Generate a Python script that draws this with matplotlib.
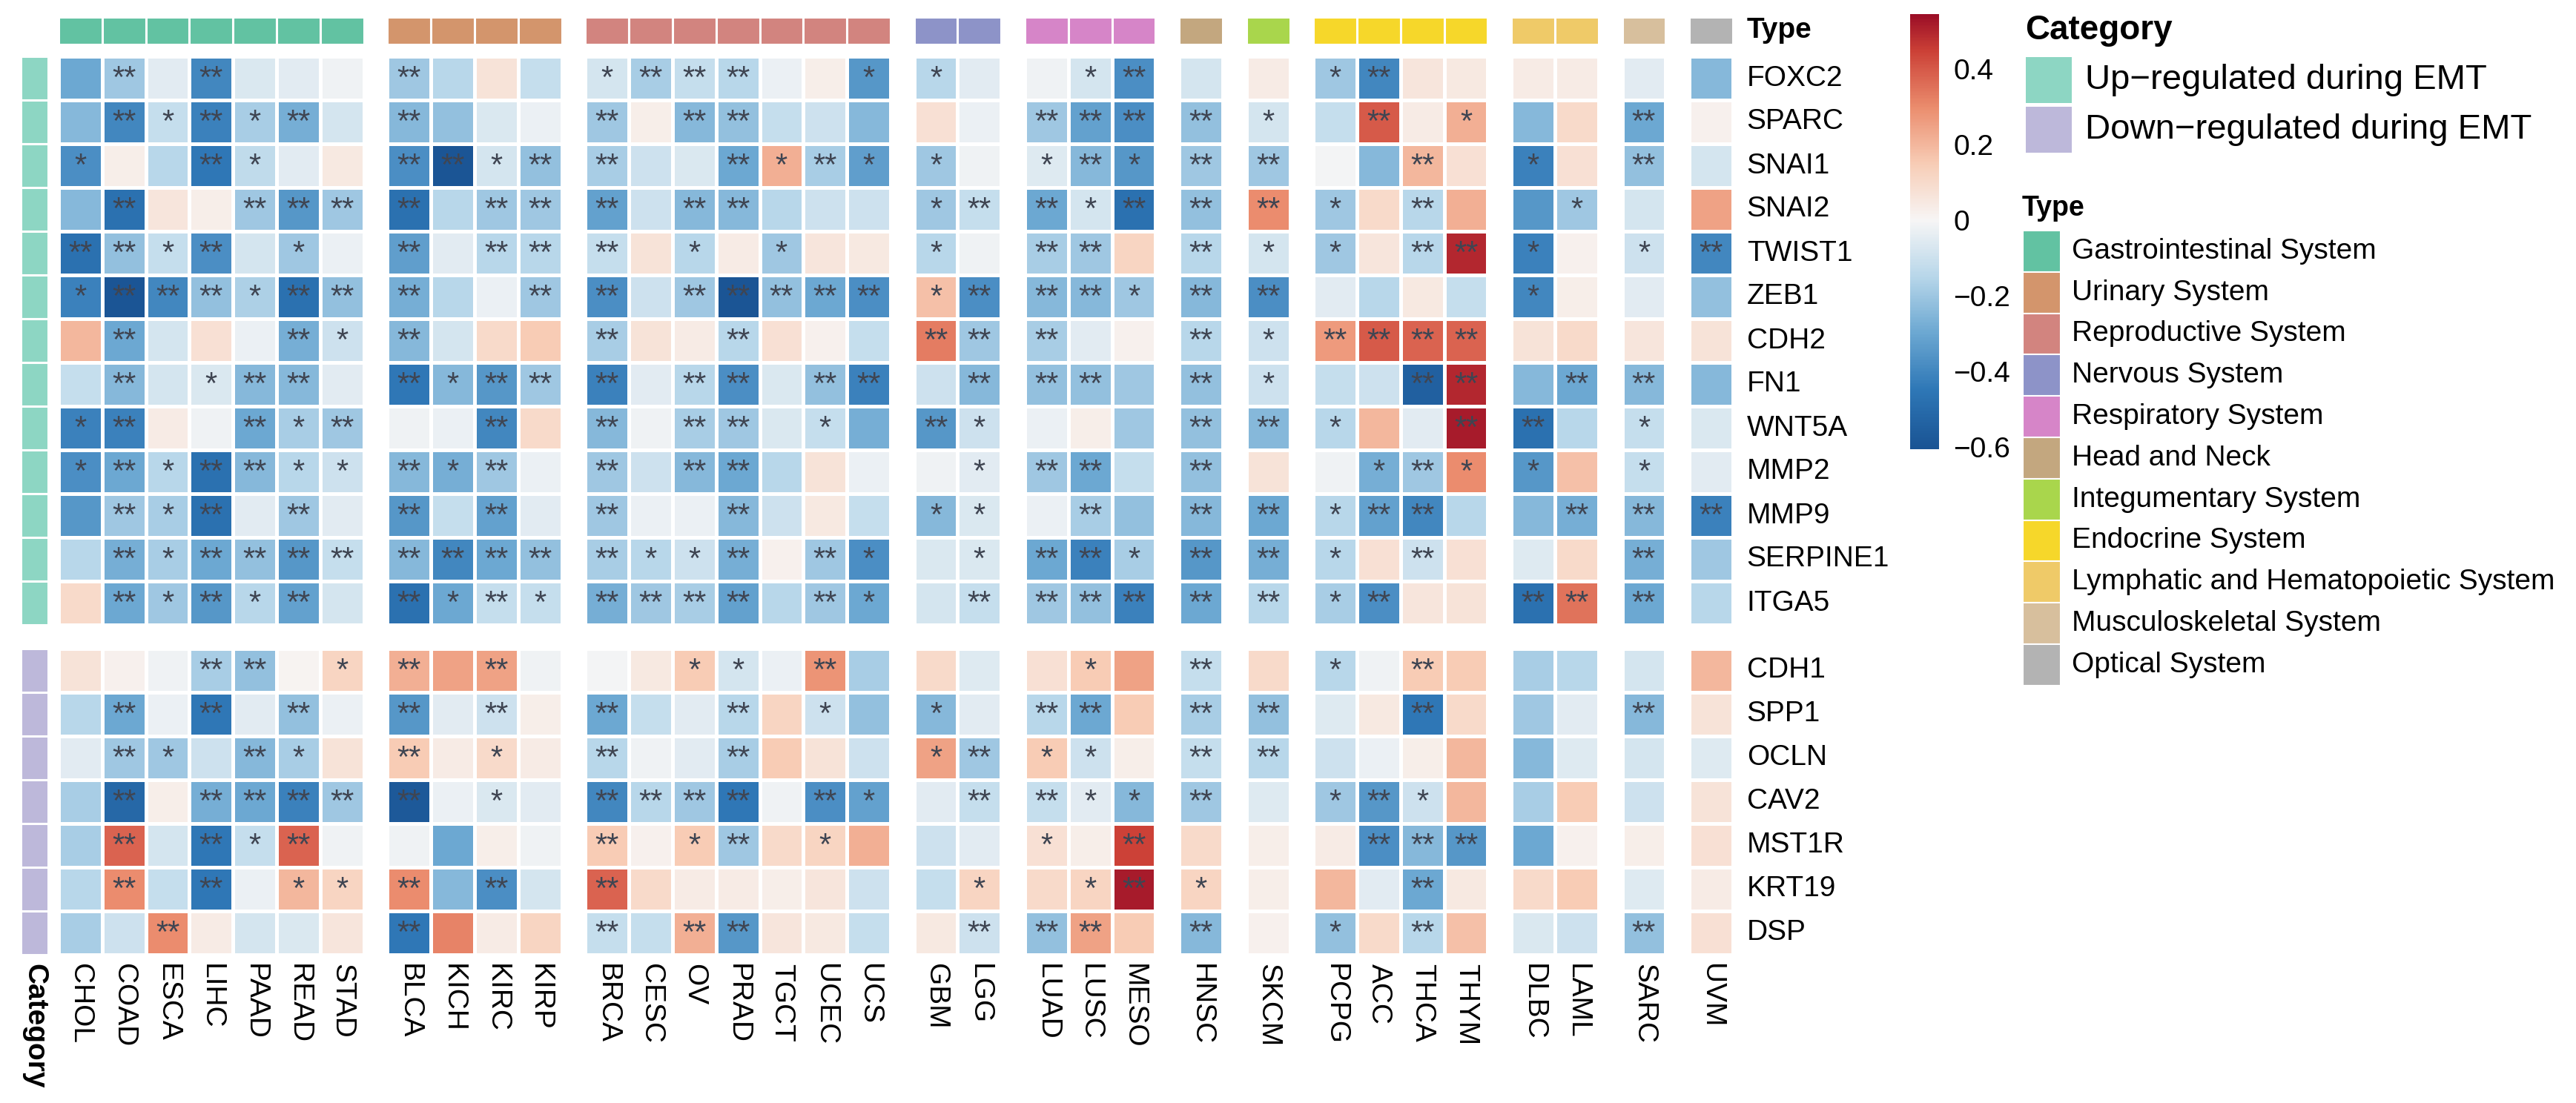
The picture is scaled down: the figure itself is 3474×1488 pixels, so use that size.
import numpy as np
import matplotlib
matplotlib.use("Agg")
import matplotlib.pyplot as plt
from matplotlib.colors import LinearSegmentedColormap, Normalize
from matplotlib.patches import Rectangle

plt.rcParams['font.family'] = ['Liberation Sans', 'DejaVu Sans']

# ---- data ----
cancers = ['CHOL', 'COAD', 'ESCA', 'LIHC', 'PAAD', 'READ', 'STAD',
           'BLCA', 'KICH', 'KIRC', 'KIRP',
           'BRCA', 'CESC', 'OV', 'PRAD', 'TGCT', 'UCEC', 'UCS',
           'GBM', 'LGG',
           'LUAD', 'LUSC', 'MESO',
           'HNSC',
           'SKCM',
           'PCPG', 'ACC', 'THCA', 'THYM',
           'DLBC', 'LAML',
           'SARC',
           'UVM']
systems = ['Gastrointestinal System', 'Urinary System', 'Reproductive System',
           'Nervous System', 'Respiratory System', 'Head and Neck',
           'Integumentary System', 'Endocrine System',
           'Lymphatic and Hematopoietic System', 'Musculoskeletal System',
           'Optical System']
system_sizes = [7, 4, 7, 2, 3, 1, 1, 4, 2, 1, 1]
system_colors = ['#62c2a2', '#d3956c', '#d2847f', '#8d93c8', '#d685c8', '#c3a77f',
                 '#a9d64c', '#f6d72a', '#efca68', '#d7bf9d', '#b3b3b3']

categories = ['Up\u2212regulated during EMT', 'Down\u2212regulated during EMT']
category_colors = ['#8dd6c3', '#bdb8da']

up_genes = ['FOXC2', 'SPARC', 'SNAI1', 'SNAI2', 'TWIST1', 'ZEB1', 'CDH2', 'FN1',
            'WNT5A', 'MMP2', 'MMP9', 'SERPINE1', 'ITGA5']
down_genes = ['CDH1', 'SPP1', 'OCLN', 'CAV2', 'MST1R', 'KRT19', 'DSP']

# correlation values, columns in the order of `cancers`
corr = {
    'FOXC2': [-0.30, -0.20, -0.05, -0.40, -0.07, -0.05, -0.02, -0.20, -0.15, 0.07, -0.12,
              -0.08, -0.18, -0.12, -0.15, -0.03, 0.03, -0.35, -0.15, -0.05, -0.02, -0.08, -0.38,
              -0.08, 0.04, -0.20, -0.40, 0.06, 0.05, 0.04, 0.04, -0.05, -0.25],
    'SPARC': [-0.25, -0.40, -0.12, -0.42, -0.18, -0.28, -0.08, -0.25, -0.22, -0.07, -0.03,
              -0.20, 0.03, -0.25, -0.22, -0.12, -0.10, -0.25, 0.08, -0.03, -0.20, -0.32, -0.38,
              -0.22, -0.08, -0.12, 0.40, 0.04, 0.22, -0.25, 0.10, -0.30, 0.02],
    'SNAI1': [-0.38, 0.03, -0.15, -0.45, -0.13, -0.05, 0.05, -0.38, -0.60, -0.08, -0.22,
              -0.18, -0.10, -0.07, -0.30, 0.22, -0.18, -0.33, -0.20, -0.02, -0.06, -0.25, -0.35,
              -0.20, -0.20, -0.01, -0.25, 0.20, 0.08, -0.42, 0.08, -0.22, -0.08],
    'SNAI2': [-0.25, -0.48, 0.06, 0.03, -0.20, -0.35, -0.20, -0.48, -0.15, -0.20, -0.20,
              -0.32, -0.10, -0.25, -0.25, -0.15, -0.10, -0.10, -0.20, -0.12, -0.30, -0.08, -0.48,
              -0.22, 0.30, -0.20, 0.10, -0.15, 0.22, -0.35, -0.20, -0.08, 0.25],
    'TWIST1': [-0.48, -0.22, -0.12, -0.38, -0.08, -0.20, -0.03, -0.33, -0.05, -0.15, -0.15,
               -0.12, 0.07, -0.15, 0.04, -0.20, 0.06, 0.05, -0.15, -0.02, -0.18, -0.20, 0.12,
               -0.15, -0.08, -0.20, 0.06, -0.15, 0.50, -0.42, 0.02, -0.10, -0.40],
    'ZEB1': [-0.42, -0.60, -0.40, -0.22, -0.17, -0.48, -0.22, -0.28, -0.15, -0.03, -0.20,
             -0.38, -0.10, -0.20, -0.60, -0.22, -0.30, -0.38, 0.18, -0.38, -0.25, -0.25, -0.20,
             -0.25, -0.38, -0.05, -0.15, 0.05, -0.12, -0.40, 0.03, -0.05, -0.22],
    'CDH2': [0.20, -0.30, -0.08, 0.08, -0.03, -0.28, -0.10, -0.25, -0.08, 0.10, 0.15,
             -0.18, 0.07, 0.04, -0.15, 0.08, 0.02, -0.12, 0.33, -0.20, -0.18, -0.05, 0.02,
             -0.15, -0.10, 0.27, 0.40, 0.38, 0.38, 0.07, 0.10, 0.06, 0.07],
    'FN1': [-0.12, -0.25, -0.08, -0.07, -0.25, -0.25, -0.05, -0.45, -0.25, -0.35, -0.20,
            -0.42, -0.05, -0.15, -0.38, -0.07, -0.22, -0.42, -0.10, -0.25, -0.22, -0.22, -0.20,
            -0.22, -0.10, -0.12, -0.10, -0.55, 0.50, -0.25, -0.30, -0.25, -0.25],
    'WNT5A': [-0.42, -0.42, 0.04, -0.02, -0.30, -0.18, -0.20, -0.02, -0.03, -0.40, 0.10,
              -0.25, -0.02, -0.18, -0.20, -0.07, -0.12, -0.28, -0.35, -0.10, -0.03, 0.03, -0.20,
              -0.22, -0.25, -0.15, 0.20, -0.05, 0.52, -0.48, -0.15, -0.12, -0.07],
    'MMP2': [-0.38, -0.30, -0.15, -0.48, -0.25, -0.15, -0.10, -0.25, -0.28, -0.20, -0.03,
             -0.20, -0.10, -0.25, -0.30, -0.15, 0.07, -0.03, -0.02, -0.05, -0.20, -0.30, -0.12,
             -0.22, 0.07, -0.02, -0.28, -0.20, 0.30, -0.35, 0.18, -0.12, -0.05],
    'MMP9': [-0.35, -0.20, -0.18, -0.48, -0.05, -0.20, -0.05, -0.35, -0.12, -0.32, -0.05,
             -0.20, -0.03, -0.03, -0.25, -0.10, 0.05, -0.12, -0.25, -0.07, -0.03, -0.18, -0.22,
             -0.25, -0.30, -0.15, -0.32, -0.40, -0.15, -0.25, -0.28, -0.25, -0.42],
    'SERPINE1': [-0.15, -0.28, -0.18, -0.30, -0.22, -0.35, -0.12, -0.25, -0.40, -0.30, -0.22,
                 -0.18, -0.15, -0.10, -0.28, 0.02, -0.20, -0.38, -0.07, -0.07, -0.30, -0.42, -0.18,
                 -0.35, -0.28, -0.15, 0.08, -0.10, 0.08, -0.06, 0.10, -0.28, -0.20],
    'ITGA5': [0.10, -0.30, -0.20, -0.35, -0.15, -0.32, -0.08, -0.48, -0.30, -0.12, -0.12,
              -0.28, -0.20, -0.18, -0.32, -0.15, -0.20, -0.30, -0.08, -0.12, -0.20, -0.22, -0.42,
              -0.30, -0.15, -0.18, -0.38, 0.06, 0.07, -0.48, 0.35, -0.30, -0.15],
    'CDH1': [0.07, 0.02, -0.02, -0.18, -0.22, 0.01, 0.12, 0.22, 0.25, 0.25, -0.02,
             -0.01, 0.05, 0.15, -0.08, -0.03, 0.28, -0.18, 0.10, -0.06, 0.08, 0.15, 0.25,
             -0.12, 0.10, -0.15, -0.02, 0.15, 0.15, -0.18, -0.15, -0.08, 0.20],
    'SPP1': [-0.15, -0.30, -0.03, -0.45, -0.05, -0.22, -0.03, -0.35, -0.05, -0.10, 0.03,
             -0.30, -0.12, -0.05, -0.15, 0.12, -0.10, -0.22, -0.25, -0.05, -0.15, -0.30, 0.15,
             -0.18, -0.22, -0.06, 0.05, -0.45, 0.10, -0.20, -0.05, -0.25, 0.07],
    'OCLN': [-0.05, -0.20, -0.20, -0.10, -0.25, -0.18, 0.07, 0.15, 0.04, 0.10, 0.04,
             -0.15, -0.02, -0.05, -0.18, 0.15, 0.07, -0.10, 0.25, -0.20, 0.15, -0.10, 0.03,
             -0.12, -0.15, -0.10, -0.03, 0.03, 0.20, -0.25, -0.06, -0.08, -0.06],
    'CAV2': [-0.18, -0.52, 0.03, -0.28, -0.30, -0.42, -0.20, -0.58, -0.03, -0.07, -0.05,
             -0.40, -0.15, -0.20, -0.45, -0.02, -0.38, -0.32, -0.05, -0.12, -0.12, -0.05, -0.25,
             -0.20, -0.06, -0.20, -0.35, -0.10, 0.20, -0.18, 0.15, -0.10, 0.07],
    'MST1R': [-0.18, 0.38, -0.08, -0.45, -0.12, 0.38, -0.02, -0.02, -0.30, 0.03, -0.02,
              0.15, 0.02, 0.15, -0.20, 0.10, 0.12, 0.22, -0.10, -0.05, 0.08, 0.03, 0.45,
              0.10, 0.03, 0.04, -0.38, -0.25, -0.35, -0.30, 0.02, 0.03, 0.08],
    'KRT19': [-0.15, 0.30, -0.12, -0.45, -0.03, 0.20, 0.12, 0.30, -0.25, -0.38, -0.08,
              0.38, 0.10, 0.04, 0.04, 0.03, 0.06, -0.10, -0.12, 0.12, 0.10, 0.12, 0.52,
              0.12, 0.03, 0.20, -0.05, -0.30, 0.05, 0.10, 0.15, -0.06, 0.04],
    'DSP': [-0.18, -0.10, 0.30, 0.04, -0.08, -0.07, 0.06, -0.45, 0.32, 0.04, 0.12,
            -0.12, -0.12, 0.22, -0.35, 0.06, 0.05, -0.12, 0.05, -0.10, -0.22, 0.25, 0.15,
            -0.25, 0.02, -0.22, 0.10, -0.15, 0.18, -0.07, -0.10, -0.22, 0.08],
}

# significance: 0 none, 1 = *, 2 = **
signif = {
    'FOXC2':    '0202000' '2000' '1222001' '10' '012' '0' '0' '1200' '00' '0' '0',
    'SPARC':    '0212120' '2000' '2022000' '00' '222' '2' '1' '0201' '00' '2' '0',
    'SNAI1':    '1002100' '2212' '2002121' '10' '121' '2' '2' '0020' '10' '2' '0',
    'SNAI2':    '0200222' '2022' '2022000' '12' '212' '2' '2' '1020' '01' '0' '0',
    'TWIST1':   '2212010' '2022' '2010100' '10' '220' '2' '1' '1022' '10' '1' '2',
    'ZEB1':     '1222122' '2002' '2022222' '12' '221' '2' '2' '0000' '10' '0' '0',
    'CDH2':     '0200021' '2000' '2002000' '22' '200' '2' '1' '2222' '00' '0' '0',
    'FN1':      '0201220' '2122' '2022022' '02' '220' '2' '1' '0022' '02' '2' '0',
    'WNT5A':    '1200212' '0020' '2022010' '21' '000' '2' '2' '1002' '20' '1' '0',
    'MMP2':     '1212211' '2120' '2022000' '01' '220' '2' '0' '0121' '10' '1' '0',
    'MMP9':     '0212020' '2020' '2002000' '11' '020' '2' '2' '1220' '02' '2' '2',
    'SERPINE1': '0212222' '2222' '2112021' '01' '221' '2' '2' '1020' '00' '2' '0',
    'ITGA5':    '0212120' '2121' '2222021' '02' '222' '2' '2' '1200' '22' '2' '0',
    'CDH1':     '0002201' '2020' '0011020' '00' '010' '2' '0' '1020' '00' '0' '0',
    'SPP1':     '0202020' '2020' '2002010' '10' '220' '2' '2' '0020' '00' '2' '0',
    'OCLN':     '0210210' '2010' '2002000' '12' '110' '2' '2' '0000' '00' '0' '0',
    'CAV2':     '0202222' '2010' '2222021' '02' '211' '2' '0' '1210' '00' '0' '0',
    'MST1R':    '0202120' '0000' '2012010' '00' '102' '0' '0' '0222' '00' '0' '0',
    'KRT19':    '0202011' '2020' '2000000' '01' '012' '1' '0' '0020' '00' '0' '0',
    'DSP':      '0020000' '2000' '2022000' '02' '220' '2' '0' '1020' '00' '2' '0',
}

# ---- colours ----
vmin, vmax = -0.606, 0.545
stop_vals = [-0.606, -0.45, -0.3, -0.15, 0.0, 0.15, 0.3, 0.45, 0.545]
stop_cols = ['#1a5494', '#2f78b7', '#6ca8d2', '#b8d7ea', '#f7f6f6',
             '#f8cdb6', '#eb8d6e', '#cc4137', '#9c0f27']
cmap = LinearSegmentedColormap.from_list(
    'corr', [((v - vmin) / (vmax - vmin), c) for v, c in zip(stop_vals, stop_cols)])
norm = Normalize(vmin=vmin, vmax=vmax)

# ---- layout ----
W, H = 3474, 1488
fig = plt.figure(figsize=(W / 100, H / 100), dpi=100)
x0_px, y0_px = 79, 76
cw, ch = 58.8, 59.0
gap = 0.54
xlim = (-1.0, 40.0)
ylim = (21.6, -1.0)
ax = fig.add_axes([(x0_px + xlim[0] * cw) / W,
                   1 - (y0_px + ylim[0] * ch) / H,
                   (xlim[1] - xlim[0]) * cw / W,
                   (ylim[0] - ylim[1]) * ch / H])
ax.set_xlim(*xlim)
ax.set_ylim(*ylim)
ax.axis('off')

genes = up_genes + down_genes
col_group = np.repeat(np.arange(len(system_sizes)), system_sizes)
col_x = np.arange(len(cancers)) + col_group * gap
row_y = np.arange(len(genes)) + (np.arange(len(genes)) >= len(up_genes)) * gap
data = np.array([corr[g] for g in genes])

row_blocks = [(0, len(up_genes)), (len(up_genes), len(genes))]
starts = np.concatenate([[0], np.cumsum(system_sizes)])
for r0, r1 in row_blocks:
    ye = row_y[r0] + np.arange(r1 - r0 + 1)
    for g in range(len(system_sizes)):
        c0, c1 = starts[g], starts[g + 1]
        xe = col_x[c0] + np.arange(c1 - c0 + 1)
        ax.pcolormesh(xe, ye, data[r0:r1, c0:c1], cmap=cmap, norm=norm,
                      edgecolors='white', linewidth=2.2)

# stars
for i, g in enumerate(genes):
    for j, s in enumerate(signif[g]):
        if s != '0':
            ax.text(col_x[j] + 0.5, row_y[i] + 0.52, '*' * int(s), ha='center',
                    va='center', fontsize=30, color='#3f4552')

# top annotation (cancer system)
for j in range(len(cancers)):
    ax.add_patch(Rectangle((col_x[j], -0.9), 1, 0.63,
                           facecolor=system_colors[col_group[j]],
                           edgecolor='white', linewidth=2.2))
# left annotation (category)
for i in range(len(genes)):
    cat = 0 if i < len(up_genes) else 1
    ax.add_patch(Rectangle((-0.86, row_y[i]), 0.62, 1,
                           facecolor=category_colors[cat],
                           edgecolor='white', linewidth=2.2))

x_right = col_x[-1] + 1
for i, g in enumerate(genes):
    ax.text(x_right + 0.32, row_y[i] + 0.5, g, ha='left', va='center', fontsize=28)
ax.text(x_right + 0.32, -0.585, 'Type', ha='left', va='center', fontsize=28,
        fontweight='bold')

y_bottom = row_y[-1] + 1
for j, c in enumerate(cancers):
    ax.text(col_x[j] + 0.5, y_bottom + 0.2, c, rotation=-90, ha='center', va='top',
            fontsize=28)
ax.text(-0.55, y_bottom + 0.2, 'Category', rotation=-90, ha='center', va='top',
        fontsize=28, fontweight='bold')

# ---- colour bar ----
cax = fig.add_axes([2576 / W, 1 - 606 / H, 39 / W, 587 / H])
grad = np.linspace(vmin, vmax, 400).reshape(-1, 1)
cax.imshow(grad, extent=[0, 1, vmin, vmax], origin='lower', aspect='auto',
           cmap=cmap, norm=norm)
cax.set_xticks([])
cax.yaxis.tick_right()
cb_ticks = [-0.6, -0.4, -0.2, 0, 0.2, 0.4]
cax.set_yticks(cb_ticks)
cax.set_yticklabels(['\u22120.6', '\u22120.4', '\u22120.2', '0', '0.2', '0.4'])
cax.tick_params(axis='y', length=0, pad=14, labelsize=28)
for sp in cax.spines.values():
    sp.set_visible(False)

# ---- legends ----
lax = fig.add_axes([0, 0, 1, 1])
lax.set_xlim(0, W)
lax.set_ylim(H, 0)
lax.axis('off')

lax.text(2731, 41, 'Category', fontsize=33, fontweight='bold', ha='left', va='center')
for k, (lab, col) in enumerate(zip(categories, category_colors)):
    y = 77 + k * 67
    lax.add_patch(Rectangle((2732, y), 62, 62, facecolor=col, edgecolor='none'))
    lax.text(2812, y + 31, lab, fontsize=34, ha='left', va='center')

lax.text(2727, 281, 'Type', fontsize=27, fontweight='bold', ha='left', va='center')
th = 55.8
for k, (lab, col) in enumerate(zip(systems, system_colors)):
    y = 311 + k * th
    lax.add_patch(Rectangle((2728, y), 51, th, facecolor=col, edgecolor='white',
                            linewidth=1.5))
    lax.text(2794, y + th / 2, lab, fontsize=28, ha='left', va='center')

fig.savefig('out.png', dpi=100)
